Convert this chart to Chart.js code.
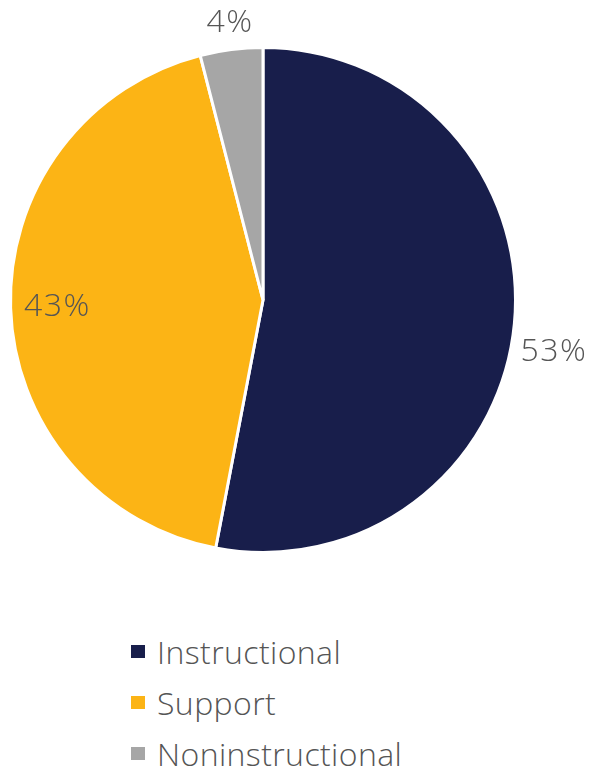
<!DOCTYPE html>
<html>
<head>
<meta charset="utf-8">
<script src="https://cdn.jsdelivr.net/npm/chart.js@4/dist/chart.umd.min.js"></script>
<style>
  html, body { margin: 0; padding: 0; background: #ffffff; }
  #wrap { position: relative; width: 592px; height: 769px; }
  #pie { position: absolute; left: 0; top: 0; }
  #legend { position: absolute; left: 131px; top: 626px; margin: 0; padding: 0; list-style: none;
            font-family: "Open Sans", "Liberation Sans", sans-serif; font-weight: 300; color: #555555; }
  #legend li { display: flex; align-items: center; height: 51px; font-size: 32px; letter-spacing: 0.4px; }
  #legend .box { width: 14px; height: 13px; margin-right: 12px; flex: none; }
</style>
</head>
<body>
<div id="wrap">
  <canvas id="pie" width="592" height="600"></canvas>
  <ul id="legend"></ul>
</div>
<script>
// Spending shares by category (percent)
const categories = ['Instructional', 'Support', 'Noninstructional'];
const shares = [53, 43, 4];
const valueLabels = ['53%', '43%', '4%'];
const sliceColors = ['#181e4b', '#fcb415', '#a6a6a6'];

// Where each percentage label sits relative to its slice
const labelPlacement = [
  { radius: 1.17, shiftDeg: 4.7 },
  { radius: 0.815, shiftDeg: 0 },
  { radius: 1.105, shiftDeg: 0.4 }
];

const sliceLabels = {
  id: 'sliceLabels',
  afterDatasetsDraw(chart) {
    const ctx = chart.ctx;
    const arcs = chart.getDatasetMeta(0).data;
    ctx.save();
    ctx.font = '300 32px "Open Sans", "Liberation Sans", sans-serif';
    ctx.fillStyle = '#555555';
    ctx.textAlign = 'center';
    ctx.textBaseline = 'middle';
    if ('letterSpacing' in ctx) ctx.letterSpacing = '1.5px';
    arcs.forEach((arc, i) => {
      const p = arc.getProps(['x', 'y', 'startAngle', 'endAngle', 'outerRadius'], true);
      const mid = (p.startAngle + p.endAngle) / 2 + labelPlacement[i].shiftDeg * Math.PI / 180;
      const r = p.outerRadius * labelPlacement[i].radius;
      ctx.fillText(valueLabels[i], p.x + Math.cos(mid) * r, p.y + Math.sin(mid) * r);
    });
    ctx.restore();
  }
};

new Chart(document.getElementById('pie'), {
  type: 'pie',
  data: {
    labels: categories,
    datasets: [{
      data: shares,
      backgroundColor: sliceColors,
      borderColor: '#ffffff',
      borderWidth: 3
    }]
  },
  options: {
    responsive: false,
    animation: false,
    layout: { padding: { left: 9, right: 75, top: 46, bottom: 46 } },
    plugins: {
      legend: { display: false },
      tooltip: { enabled: false }
    }
  },
  plugins: [sliceLabels]
});

// Vertical legend beneath the pie
const legend = document.getElementById('legend');
categories.forEach((name, i) => {
  const li = document.createElement('li');
  const box = document.createElement('span');
  box.className = 'box';
  box.style.background = sliceColors[i];
  li.appendChild(box);
  li.appendChild(document.createTextNode(name));
  legend.appendChild(li);
});
</script>
</body>
</html>
